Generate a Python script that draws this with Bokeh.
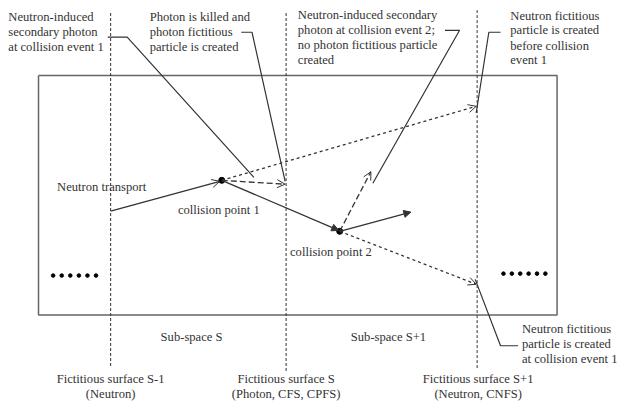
from bokeh.plotting import figure
from bokeh.models import Range1d, ColumnDataSource, Arrow, OpenHead, NormalHead
from bokeh.core.properties import value
from bokeh.embed import file_html
from bokeh.resources import INLINE

FONT = "Liberation Serif"
INK = "#333333"

# ---- geometry (reference pixel coordinates, y downward) ----
box_x = [39, 571, 571, 39, 39]
box_y = [78, 78, 327, 327, 78]

surf_x = [113, 293, 489]
surf_top = [13, 13, 10]
surf_bot = [382, 387, 383]

collision_x = [227, 348]
collision_y = [187, 240]

dots_left_x = [54, 62.8, 71.6, 80.4, 89.2, 98]
dots_left_y = [286] * 6
dots_right_x = [516, 524.6, 533.2, 541.8, 550.4, 559]
dots_right_y = [284] * 6

# arrows: start x, start y, end x, end y
solid_open = dict(x0=[113], y0=[219], x1=[225], y1=[188])
solid_filled = dict(x0=[227, 348], y0=[187, 240], x1=[347, 421], y1=[239, 220])
long_dash = dict(x0=[227, 348], y0=[187, 240], x1=[292, 380], y1=[191, 178])
short_dash = dict(x0=[227, 348], y0=[187, 240], x1=[488, 488], y1=[110, 295])

# leader lines
leader_xs = [[110, 130, 260], [247, 258, 292], [456, 471, 382],
             [513, 501, 488], [531, 513, 487]]
leader_ys = [[38, 38, 184], [33, 33, 188], [31, 31, 190],
             [33, 33, 117], [359, 359, 290]]

# texts
left_text = ["Neutron-induced", "secondary photon", "at collision event 1",
             "Photon is killed and", "photon fictitious", "particle is created",
             "Neutron-induced secondary", "photon  at collision event 2;",
             "no photon fictitious particle", "created",
             "Neutron fictitious", "particle is created", "before collision", "event 1",
             "Neutron transport", "collision point 1", "collision point 2",
             "Neutron fictitious", "particle is created", "at collision event 1"]
left_x = [8, 8, 8, 153, 153, 153, 305, 305, 305, 305,
          523, 523, 523, 523, 58, 182, 297, 535, 535, 535]
left_y = [17, 33, 48, 17, 33, 48, 15, 31, 46, 62,
          16, 31, 47, 62, 194, 218, 262, 342, 357, 373]

center_text = ["Sub-space S", "Sub-space S+1",
               "Fictitious surface S-1", "(Neutron)",
               "Fictitious surface S", "(Photon, CFS, CPFS)",
               "Fictitious surface S+1", "(Neutron, CNFS)"]
center_x = [196, 398, 113, 113, 293, 293, 490, 490]
center_y = [350, 350, 394, 409, 394, 409, 394, 409]

p = figure(width=617, height=402, output_backend="svg", toolbar_location=None,
           x_range=Range1d(0, 633), y_range=Range1d(418, 0),
           min_border=0, outline_line_color=None)
p.axis.visible = False
p.grid.visible = False
p.background_fill_color = "white"

p.line(box_x, box_y, line_color="#666666", line_width=1.5)
p.segment(x0=surf_x, y0=surf_top, x1=surf_x, y1=surf_bot,
          line_color=INK, line_width=1, line_dash="3 2")
p.multi_line(xs=leader_xs, ys=leader_ys, line_color=INK, line_width=1.2)

def add_arrows(d, dash, head):
    src = ColumnDataSource(d)
    p.add_layout(Arrow(source=src, x_start="x0", y_start="y0", x_end="x1", y_end="y1",
                       line_color=INK, line_width=1.3, line_dash=dash, end=head))

add_arrows(solid_open, "solid", OpenHead(size=8, line_color=INK, line_width=1))
add_arrows(solid_filled, "solid", NormalHead(size=7, line_color=INK, fill_color=INK, line_width=1))
add_arrows(long_dash, "6 3", OpenHead(size=8, line_color=INK, line_width=1))
add_arrows(short_dash, "3 3", OpenHead(size=8, line_color=INK, line_width=1))

p.scatter(collision_x, collision_y, size=6, color="black")
p.scatter(dots_left_x, dots_left_y, size=3.6, color="black")
p.scatter(dots_right_x, dots_right_y, size=3.6, color="black")

p.text(x=left_x, y=left_y, text=left_text, text_font=value(FONT), text_font_size="12.6px",
       text_color=INK, text_align="left", text_baseline="middle")
p.text(x=center_x, y=center_y, text=center_text, text_font=value(FONT), text_font_size="12.6px",
       text_color=INK, text_align="center", text_baseline="middle")

open("out.html", "w").write(file_html(p, INLINE))
